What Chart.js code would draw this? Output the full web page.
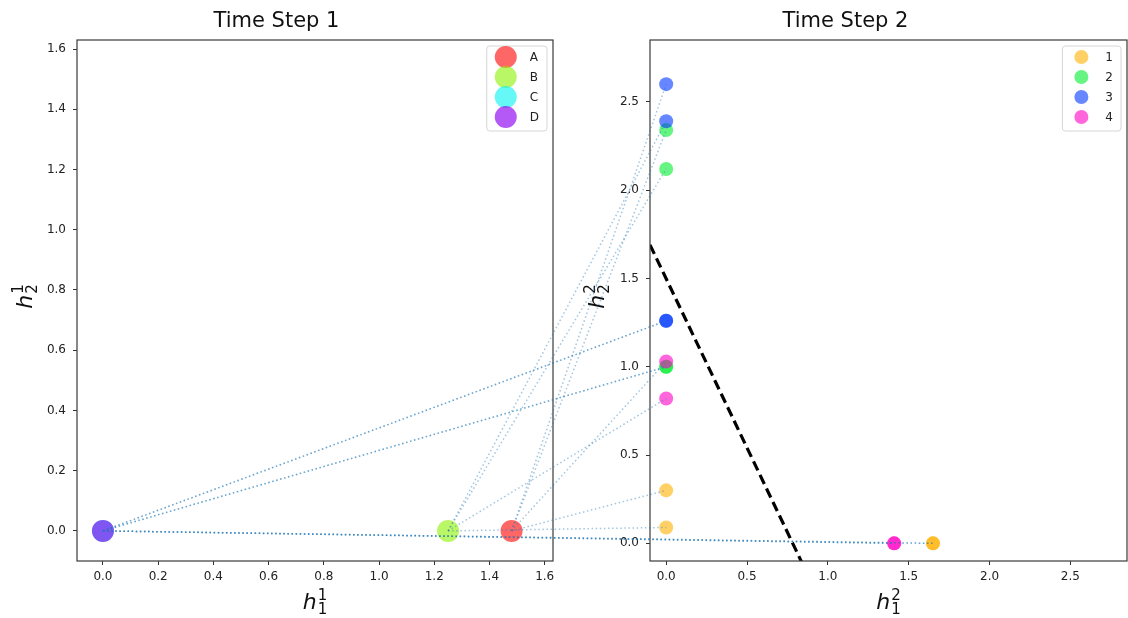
<!DOCTYPE html>
<html>
<head>
<meta charset="utf-8">
<script src="https://cdn.jsdelivr.net/npm/chart.js@4.4.0/dist/chart.umd.min.js"></script>
<style>
  html, body { margin: 0; padding: 0; background: #fff; }
  #wrap { position: relative; width: 1128px; height: 618px; }
  .pane { position: absolute; top: 0; width: 564px; height: 618px; }
  #left { left: 0; }
  #right { left: 564px; }
  #links { position: absolute; left: 0; top: 0; pointer-events: none; }
</style>
</head>
<body>
<div id="wrap">
  <div class="pane" id="left"><canvas id="step1" width="564" height="618"></canvas></div>
  <div class="pane" id="right"><canvas id="step2" width="564" height="618"></canvas></div>
  <canvas id="links" width="1128" height="618"></canvas>
</div>
<script>
// ---- data ----
const step1Labels = ['A', 'B', 'C', 'D'];
const step1X = [1.48, 1.25, 0.0, 0.0];
const step1Y = [0.0, 0.0, 0.0, 0.0];
const step1Colors = ['rgba(255,0,0,0.6)', 'rgba(140,242,0,0.6)', 'rgba(0,242,242,0.6)', 'rgba(140,0,240,0.65)'];

// time step 2: one point per source state (A, B, C, D) for every class
const step2Labels = ['1', '2', '3', '4'];
const class1X = [0, 0, 1.65, 1.65];
const class1Y = [0.30, 0.09, 0, 0];
const class2X = [0, 0, 0, 0];
const class2Y = [2.34, 2.12, 1.00, 1.00];
const class3X = [0, 0, 0, 0];
const class3Y = [2.60, 2.39, 1.26, 1.26];
const class4X = [0, 0, 1.41, 1.41];
const class4Y = [1.03, 0.82, 0, 0];
const step2Colors = ['rgba(255,176,0,0.6)', 'rgba(0,238,47,0.6)', 'rgba(0,55,255,0.6)', 'rgba(255,0,197,0.6)'];

// dashed decision boundary
const boundaryX = [-0.1, 0.84];
const boundaryY = [1.69, -0.11];

const step1Ticks = [0.0, 0.2, 0.4, 0.6, 0.8, 1.0, 1.2, 1.4, 1.6];
const step2Ticks = [0.0, 0.5, 1.0, 1.5, 2.0, 2.5];

const tickFont = { family: 'DejaVu Sans', size: 12 };
const tickColor = '#222';

// ---- small plugins ----
const framePlugin = {
  id: 'frame',
  afterDatasetsDraw(chart) {
    const a = chart.chartArea, ctx = chart.ctx;
    ctx.save();
    ctx.strokeStyle = '#3a3a3a';
    ctx.lineWidth = 1.2;
    ctx.strokeRect(a.left, a.top, a.right - a.left, a.bottom - a.top);
    ctx.restore();
  }
};

const boxLegend = {
  id: 'boxLegend',
  afterDraw(chart) {
    const ctx = chart.ctx, a = chart.chartArea;
    const sets = chart.data.datasets.filter(d => d.inLegend);
    ctx.save();
    ctx.font = '12px DejaVu Sans';
    const labelW = Math.max(...sets.map(d => ctx.measureText(d.label).width));
    const w = 43 + labelW + 8, h = 85;
    const x = a.right - 6 - w, y = a.top + 6;
    ctx.beginPath();
    ctx.roundRect(x, y, w, h, 3);
    ctx.fillStyle = 'rgba(255,255,255,0.8)';
    ctx.fill();
    ctx.strokeStyle = '#d6d6d6';
    ctx.lineWidth = 1;
    ctx.stroke();
    sets.forEach((d, i) => {
      const cy = y + 11 + i * 20;
      ctx.beginPath();
      ctx.arc(x + 19, cy, d.pointRadius, 0, Math.PI * 2);
      ctx.fillStyle = d.backgroundColor;
      ctx.fill();
      ctx.fillStyle = '#222';
      ctx.textBaseline = 'middle';
      ctx.textAlign = 'left';
      ctx.fillText(d.label, x + 43, cy + 1);
    });
    ctx.restore();
  }
};

function drawMath(ctx, cx, cy, sub, sup, rotate) {
  ctx.save();
  ctx.translate(cx, cy);
  if (rotate) ctx.rotate(-Math.PI / 2);
  ctx.fillStyle = '#111';
  ctx.textBaseline = 'alphabetic';
  ctx.font = 'italic 22px DejaVu Sans';
  const hw = ctx.measureText('h').width;
  ctx.font = '15px DejaVu Sans';
  const sw = Math.max(ctx.measureText(sub).width, ctx.measureText(sup).width);
  const x0 = -(hw + sw + 1) / 2;
  ctx.font = 'italic 22px DejaVu Sans';
  ctx.fillText('h', x0, 7);
  ctx.font = '15px DejaVu Sans';
  ctx.fillText(sup, x0 + hw + 1, -2);
  ctx.fillText(sub, x0 + hw + 1, 12);
  ctx.restore();
}

const mathTitles = {
  id: 'mathTitles',
  afterDraw(chart, args, opts) {
    const a = chart.chartArea, ctx = chart.ctx;
    drawMath(ctx, (a.left + a.right) / 2, 602, opts.xSub, opts.xSup, false);
    drawMath(ctx, opts.yX, (a.top + a.bottom) / 2 - 4, opts.ySub, opts.ySup, true);
  }
};

function axis(min, max, ticks, size, isX) {
  return {
    type: 'linear',
    min: min,
    max: max,
    afterBuildTicks: s => { s.ticks = ticks.map(v => ({ value: v })); },
    afterFit: s => {
      if (isX) { s.height = size; s.paddingLeft = 0; s.paddingRight = 0; }
      else { s.width = size; s.paddingTop = 0; s.paddingBottom = 0; }
    },
    ticks: {
      font: tickFont,
      color: tickColor,
      padding: isX ? 5 : 7,
      maxRotation: 0,
      autoSkip: false,
      callback: v => Number(v).toFixed(1)
    },
    grid: { drawOnChartArea: false, tickLength: 4, color: '#333', tickWidth: 1 },
    border: { display: false }
  };
}

function titleOpts(text) {
  return {
    display: true,
    text: text,
    color: '#111',
    font: { family: 'DejaVu Sans', size: 21, weight: 'normal' },
    padding: { top: 9, bottom: 5.8 }
  };
}

// ---- time step 1 ----
const step1Sets = step1Labels.map((lab, i) => ({
  label: lab,
  inLegend: true,
  data: [{ x: step1X[i], y: step1Y[i] }],
  backgroundColor: step1Colors[i],
  borderWidth: 0,
  pointRadius: 11,
  order: -i
}));

const chart1 = new Chart(document.getElementById('step1'), {
  type: 'scatter',
  data: { datasets: step1Sets },
  options: {
    responsive: false,
    animation: false,
    layout: { autoPadding: false, padding: { left: 0, right: 11, top: 0, bottom: 0 } },
    scales: {
      x: axis(-0.094, 1.63, step1Ticks, 57, true),
      y: axis(-0.1, 1.63, step1Ticks, 77, false)
    },
    plugins: {
      legend: { display: false },
      tooltip: { enabled: false },
      title: titleOpts('Time Step 1'),
      mathTitles: { xSub: '1', xSup: '1', ySub: '2', ySup: '1', yX: 25 }
    }
  },
  plugins: [framePlugin, boxLegend, mathTitles]
});

// ---- time step 2 ----
const classX = [class1X, class2X, class3X, class4X];
const classY = [class1Y, class2Y, class3Y, class4Y];

const step2Sets = step2Labels.map((lab, k) => ({
  label: lab,
  inLegend: true,
  data: classX[k].map((x, i) => ({ x: x, y: classY[k][i] })),
  backgroundColor: step2Colors[k],
  borderWidth: 0,
  pointRadius: 7,
  order: -k
}));

step2Sets.push({
  type: 'line',
  label: 'boundary',
  data: boundaryX.map((x, i) => ({ x: x, y: boundaryY[i] })),
  borderColor: '#000',
  borderWidth: 3.2,
  borderDash: [10, 5],
  pointRadius: 0,
  fill: false,
  clip: 0,
  order: -10
});

const chart2 = new Chart(document.getElementById('step2'), {
  type: 'scatter',
  data: { datasets: step2Sets },
  options: {
    responsive: false,
    animation: false,
    layout: { autoPadding: false, padding: { left: 0, right: 1, top: 0, bottom: 0 } },
    scales: {
      x: axis(-0.1, 2.85, step2Ticks, 57, true),
      y: axis(-0.1, 2.85, step2Ticks, 86, false)
    },
    plugins: {
      legend: { display: false },
      tooltip: { enabled: false },
      title: titleOpts('Time Step 2'),
      mathTitles: { xSub: '1', xSup: '2', ySub: '2', ySup: '2', yX: 33 }
    }
  },
  plugins: [framePlugin, boxLegend, mathTitles]
});

// ---- dotted links from step 1 states to step 2 states ----
(function drawLinks() {
  const ctx = document.getElementById('links').getContext('2d');
  const offset = 564;
  ctx.lineWidth = 1.5;
  ctx.setLineDash([1.5, 2.6]);
  ctx.strokeStyle = 'rgba(31,119,180,0.42)';
  classX.forEach((xs, k) => {
    xs.forEach((x, i) => {
      const x0 = chart1.scales.x.getPixelForValue(step1X[i]);
      const y0 = chart1.scales.y.getPixelForValue(step1Y[i]);
      const x1 = offset + chart2.scales.x.getPixelForValue(x);
      const y1 = chart2.scales.y.getPixelForValue(classY[k][i]);
      ctx.beginPath();
      ctx.moveTo(x0, y0);
      ctx.lineTo(x1, y1);
      ctx.stroke();
    });
  });
})();
</script>
</body>
</html>
